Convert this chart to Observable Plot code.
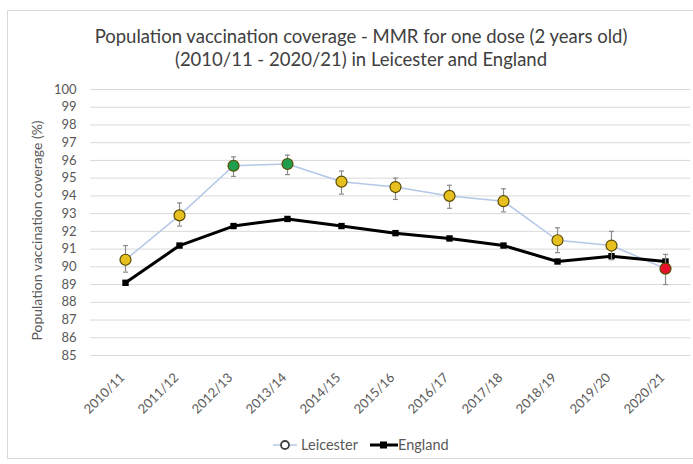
<!DOCTYPE html>
<html><head><meta charset="utf-8">
<script src="https://cdn.jsdelivr.net/npm/d3@7"></script>
<script src="https://cdn.jsdelivr.net/npm/@observablehq/plot@0.6"></script>
<style>
body{margin:0;background:#fff;font-family:Lato,"Open Sans",sans-serif;}
#wrap{position:relative;width:693px;height:464px;overflow:hidden;}
#box{position:absolute;left:7px;top:10px;width:720px;height:447px;border:1px solid #d9d9d9;}
#title{position:absolute;left:0;top:25px;width:722px;text-align:center;font-size:18.5px;line-height:23px;color:#404040;}
#chart{position:absolute;left:0;top:72px;}
#legend{position:absolute;left:0;top:436px;width:722px;text-align:center;font-size:14.5px;color:#595959;}
#legend span{display:inline-flex;align-items:center;margin:0 6px;}
</style></head>
<body><div id="wrap"><div id="box"></div>
<div id="title">Population vaccination coverage - MMR for one dose (2 years old)<br>(2010/11 - 2020/21) in Leicester and England</div>
<div id="chart"></div>
<div id="legend"><span><svg width="24" height="12"><line x1="0" y1="6" x2="24" y2="6" stroke="#b4c7e7" stroke-width="1.5"/><circle cx="12" cy="6" r="4" fill="#fff" stroke="#404040" stroke-width="1.8"/></svg>&nbsp;Leicester</span><span><svg width="28" height="12"><line x1="0" y1="6" x2="28" y2="6" stroke="#000" stroke-width="3"/><rect x="10" y="2.5" width="7" height="7" fill="#000"/></svg>England</span></div>
</div>
<script>
const years = ["2010/11","2011/12","2012/13","2013/14","2014/15","2015/16","2016/17","2017/18","2018/19","2019/20","2020/21"];
const leicester = [90.4, 92.9, 95.7, 95.8, 94.8, 94.5, 94.0, 93.7, 91.5, 91.2, 89.9];
const leicesterLow = [89.7, 92.3, 95.1, 95.2, 94.1, 93.8, 93.3, 93.1, 90.8, 90.4, 89.0];
const leicesterHigh = [91.2, 93.6, 96.2, 96.3, 95.4, 95.0, 94.6, 94.4, 92.2, 92.0, 90.7];
const england = [89.1, 91.2, 92.3, 92.7, 92.3, 91.9, 91.6, 91.2, 90.3, 90.6, 90.3];
const yTicks = [85,86,87,88,89,90,91,92,93,94,95,96,97,98,99,100];

const rag = v => v >= 95 ? "#1f9e4f" : v >= 90 ? "#e6c01e" : "#e8102a";
const leic = years.map((y,i)=>({year:y, value:leicester[i], lo:leicesterLow[i], hi:leicesterHigh[i], fill:rag(leicester[i])}));
const eng = years.map((y,i)=>({year:y, value:england[i]}));
const capSymbol = {draw(ctx,size){const r=Math.sqrt(size/Math.PI); ctx.moveTo(-r,0); ctx.lineTo(r,0);}};

const chart = Plot.plot({
  width: 693, height: 348,
  marginLeft: 90, marginRight: 3, marginTop: 17, marginBottom: 65,
  style: {fontFamily: "Lato, 'Open Sans', sans-serif", fontSize: "13px", color: "#595959", background: "transparent"},
  x: {type: "point", domain: years, range: [121, 668], padding: 0, label: null},
  y: {domain: [85, 100], ticks: yTicks, label: null},
  marks: [
    Plot.gridY(yTicks, {stroke: "#d9d9d9", strokeOpacity: 1, strokeWidth: 1}),
    Plot.axisY(yTicks, {tickSize: 0, tickPadding: 14, fontSize: 13, fill: "#595959", label: null}),
    Plot.text(["Population vaccination coverage (%)"], {frameAnchor: "left", textAnchor: "middle", dx: -53, dy: 8, rotate: -90, fontSize: 14, fill: "#595959"}),
    Plot.axisX({tickSize: 0, tickRotate: -45, tickPadding: 20, dx: -3, fontSize: 13, fill: "#595959", label: null}),
    Plot.line(leic, {x: "year", y: "value", stroke: "#b4c7e7", strokeWidth: 1.5}),
    Plot.line(eng, {x: "year", y: "value", stroke: "#000", strokeWidth: 3}),
    Plot.dot(eng, {x: "year", y: "value", symbol: "square", fill: "#000", r: 3.6}),
    Plot.ruleX(leic, {x: "year", y1: "lo", y2: "hi", stroke: "#8c8c8c", strokeWidth: 1.2}),
    Plot.dot(leic, {x: "year", y: "lo", symbol: capSymbol, r: 2.5, stroke: "#8c8c8c", fill: "none", strokeWidth: 1.2}),
    Plot.dot(leic, {x: "year", y: "hi", symbol: capSymbol, r: 2.5, stroke: "#8c8c8c", fill: "none", strokeWidth: 1.2}),
    Plot.dot(leic, {x: "year", y: "value", r: 5.5, fill: "fill", stroke: "#5a4a00", strokeWidth: 1.2})
  ]
});
document.getElementById("chart").append(chart);
</script></body></html>
